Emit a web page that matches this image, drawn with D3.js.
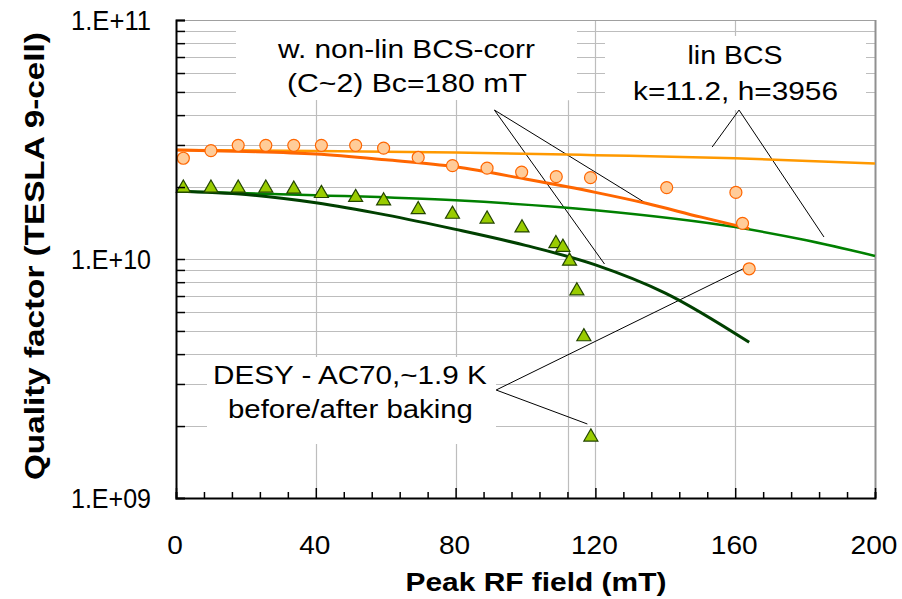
<!DOCTYPE html>
<html>
<head>
<meta charset="utf-8">
<script src="https://cdn.jsdelivr.net/npm/d3@7"></script>
<style>
  body { margin: 0; background: #fff; }
  text { font-family: "Liberation Sans", Arial, sans-serif; fill: #000; }
</style>
</head>
<body>
<div class="chart"></div>
<script>
let d3 = window.d3;
let w = 902, h = 599;
let plotLeft = 176, plotRight = 875, plotTop = 20, plotBottom = 498;

// measured points (peak field in mT, Q0)
let circleField = [2.1, 10, 17.8, 25.7, 33.7, 41.6, 51.4, 59.4, 69.3, 79.1, 89, 98.9, 108.8, 118.6, 140.4, 160.2, 162.1, 164];
let circleQ = [2.64e10, 2.84e10, 2.99e10, 2.99e10, 2.99e10, 2.99e10, 2.99e10, 2.91e10, 2.66e10, 2.46e10, 2.40e10, 2.31e10, 2.21e10, 2.19e10, 1.99e10, 1.90e10, 1.41e10, 9.1e9];

let triField = [2.1, 10, 17.8, 25.7, 33.7, 41.6, 51.4, 59.4, 69.3, 79.1, 89, 99, 108.7, 110.7, 112.6, 114.7, 116.7, 118.7];
let triQ = [1.98e10, 1.98e10, 1.98e10, 1.98e10, 1.96e10, 1.88e10, 1.81e10, 1.75e10, 1.61e10, 1.54e10, 1.47e10, 1.35e10, 1.16e10, 1.12e10, 9.8e9, 7.36e9, 4.73e9, 1.80e9];

// model curves
let linOrangeField = [0, 40, 80, 120, 160, 200];
let linOrangeQ = [2.86e10, 2.83e10, 2.79e10, 2.72e10, 2.64e10, 2.51e10];

let nonlinOrangeField = [0, 20, 40, 60, 80, 100, 120, 134.5, 150, 164];
let nonlinOrangeQ = [2.86e10, 2.82e10, 2.75e10, 2.6e10, 2.43e10, 2.16e10, 1.9e10, 1.71e10, 1.5e10, 1.34e10];

let linGreenField = [0, 40, 80, 120, 160, 180, 200];
let linGreenQ = [1.92e10, 1.85e10, 1.76e10, 1.60e10, 1.36e10, 1.2e10, 1.03e10];

let nonlinGreenField = [0, 20, 40, 60, 80, 100, 120, 140, 164];
let nonlinGreenQ = [1.92e10, 1.86e10, 1.72e10, 1.53e10, 1.33e10, 1.14e10, 9.45e9, 7.2e9, 4.48e9];

// axis ticks
let xTicks = [0, 40, 80, 120, 160, 200];
let yTicks = [1e9, 1e10, 1e11];
let yTickLabels = ['1.E+09', '1.E+10', '1.E+11'];

// call-out lines: [apex, end, end] in (mT, Q)
let calloutNonlin = [[91.1, 4.2e10], [134.5, 1.71e10], [122.6, 9.53e9]];
let calloutLin = [[161.1, 4.2e10], [153.4, 2.94e10], [185.4, 1.236e10]];
let calloutDesy = [[91.6, 2.83e9], [164, 9.36e9], [117.7, 2.04e9]];

let svg = d3.select('.chart').append('svg').attr('width', w).attr('height', h);

/* ==== X & Y SCALES ===== */

let xScale = d3.scaleLinear().domain([0, 200]).range([plotLeft, plotRight]);
let yScale = d3.scaleLog().domain([1e9, 1e11]).range([plotBottom, plotTop]);

function zip(xs, ys) {
    return xs.map(function (x, i) { return [x, ys[i]]; });
}

/* ==== GRID ===== */

let minorQ = [];
for (let e = 9; e <= 10; e++) {
    for (let m = 1; m <= 9; m++) {
        let v = m * Math.pow(10, e);
        if (v > 1e9) minorQ.push(v);
    }
}

svg.append('g')
    .selectAll('line')
    .data(minorQ)
    .enter().append('line')
    .attr('x1', plotLeft).attr('x2', plotRight)
    .attr('y1', function (d) { return Math.round(yScale(d)) + 0.5; })
    .attr('y2', function (d) { return Math.round(yScale(d)) + 0.5; })
    .attr('stroke', '#bdbdbd')
    .attr('stroke-width', 1.2);

svg.append('g')
    .selectAll('line')
    .data([40, 80, 120, 160])
    .enter().append('line')
    .attr('x1', function (d) { return Math.round(xScale(d)) + 0.5; })
    .attr('x2', function (d) { return Math.round(xScale(d)) + 0.5; })
    .attr('y1', plotTop).attr('y2', plotBottom)
    .attr('stroke', '#bdbdbd')
    .attr('stroke-width', 1.2);

// stray grey rule under the first label
svg.append('line')
    .attr('x1', Math.round(xScale(112.3)) + 0.5).attr('x2', Math.round(xScale(112.3)) + 0.5)
    .attr('y1', yScale(4.62e10)).attr('y2', plotBottom)
    .attr('stroke', '#bdbdbd')
    .attr('stroke-width', 1.2);

// plot frame, grey top/right
svg.append('line').attr('x1', plotLeft).attr('x2', plotRight + 1).attr('y1', plotTop + 0.5).attr('y2', plotTop + 0.5)
    .attr('stroke', '#a0a0a0').attr('stroke-width', 1);
svg.append('line').attr('x1', plotRight + 0.5).attr('x2', plotRight + 0.5).attr('y1', plotTop).attr('y2', plotBottom)
    .attr('stroke', '#909090').attr('stroke-width', 2);

/* ==== LABEL BOXES (white, hide grid) ===== */

let boxes = [
    [xScale.invert(236), xScale.invert(577), 1.0e11, yScale.invert(100)],
    [xScale.invert(605), xScale.invert(866), yScale.invert(35), yScale.invert(110)],
    [xScale.invert(207), xScale.invert(496), yScale.invert(356), yScale.invert(444)]
];
svg.append('g')
    .selectAll('rect')
    .data(boxes)
    .enter().append('rect')
    .attr('x', function (d) { return xScale(d[0]); })
    .attr('y', function (d) { return yScale(d[2]) + 1; })
    .attr('width', function (d) { return xScale(d[1]) - xScale(d[0]); })
    .attr('height', function (d) { return yScale(d[3]) - yScale(d[2]) - 1; })
    .attr('fill', '#fff');

/* ==== CALL-OUT LINES ===== */

[calloutNonlin, calloutLin, calloutDesy].forEach(function (c) {
    svg.append('path')
        .attr('d', 'M' + xScale(c[1][0]) + ',' + yScale(c[1][1]) +
            'L' + xScale(c[0][0]) + ',' + yScale(c[0][1]) +
            'L' + xScale(c[2][0]) + ',' + yScale(c[2][1]))
        .attr('fill', 'none')
        .attr('stroke', '#000')
        .attr('stroke-width', 1);
});

/* ==== LINES ===== */

let line = d3.line()
    .x(function (d) { return xScale(d[0]); })
    .y(function (d) { return yScale(d[1]); })
    .curve(d3.curveMonotoneX);

svg.append('path').datum(zip(linOrangeField, linOrangeQ))
    .attr('d', line).attr('fill', 'none').attr('stroke', '#ff9900').attr('stroke-width', 2.5);
svg.append('path').datum(zip(linGreenField, linGreenQ))
    .attr('d', line).attr('fill', 'none').attr('stroke', '#008000').attr('stroke-width', 2.5);
svg.append('path').datum(zip(nonlinOrangeField, nonlinOrangeQ))
    .attr('d', line).attr('fill', 'none').attr('stroke', '#ff6600').attr('stroke-width', 3);
svg.append('path').datum(zip(nonlinGreenField, nonlinGreenQ))
    .attr('d', line).attr('fill', 'none').attr('stroke', '#004000').attr('stroke-width', 3);

/* ==== POINTS ===== */

svg.append('g')
    .selectAll('circle')
    .data(zip(circleField, circleQ))
    .enter().append('circle')
    .attr('cx', function (d) { return xScale(d[0]); })
    .attr('cy', function (d) { return yScale(d[1]); })
    .attr('r', 6)
    .attr('fill', '#ffcc99')
    .attr('stroke', '#ff6600')
    .attr('stroke-width', 1.2);

let tri = d3.symbol().type(d3.symbolTriangle).size(85);
svg.append('g')
    .selectAll('path')
    .data(zip(triField, triQ))
    .enter().append('path')
    .attr('d', tri)
    .attr('transform', function (d) { return 'translate(' + xScale(d[0]) + ',' + yScale(d[1]) + ')'; })
    .attr('fill', '#99cc00')
    .attr('stroke', '#224400')
    .attr('stroke-width', 1.2);

/* ==== AXES ===== */

let xAxis = d3.axisBottom(xScale)
    .tickValues(d3.range(0, 201, 8))
    .tickSize(-6)
    .tickFormat('');
let gx = svg.append('g')
    .attr('transform', 'translate(0,' + plotBottom + ')')
    .call(xAxis);
gx.selectAll('.tick line')
    .attr('y2', function (d) { return d % 40 === 0 ? -10 : -6; })
    .attr('stroke-width', 1.5);
gx.select('.domain').attr('stroke-width', 2);

let yAxis = d3.axisLeft(yScale)
    .tickValues(minorQ.concat([1e11]))
    .tickSize(-9)
    .tickFormat('');
let gy = svg.append('g')
    .attr('transform', 'translate(' + plotLeft + ',0)')
    .call(yAxis);
gy.selectAll('.tick line').attr('stroke-width', 1.5);
gy.select('.domain').attr('stroke-width', 2);

// text squeezed/stretched horizontally to a measured width, height kept
function label(str, cx, y, len, size, weight, rotate) {
    let t = svg.append('text')
        .text(str)
        .attr('font-size', size)
        .attr('font-weight', weight || 'normal');
    let nat = t.node().getComputedTextLength();
    let sx = len / nat;
    if (rotate) {
        t.attr('transform', 'translate(' + cx + ',' + y + ') rotate(-90) translate(' + (-len / 2) + ',0) scale(' + sx + ',1)');
    } else {
        t.attr('transform', 'translate(' + (cx - len / 2) + ',' + y + ') scale(' + sx + ',1)');
    }
    return t;
}

xTicks.forEach(function (t) {
    let s = String(t);
    label(s, xScale(t) - 1, 554, s.length * 15.6, 25.5);
});

yTicks.forEach(function (t, i) {
    label(yTickLabels[i], 151 - 40, yScale(t) + 10, 80, 28);
});

/* ==== TITLES & NOTES ===== */

label('Peak RF field (mT)', 536, 591, 261, 26, 'bold');
label('Quality factor (TESLA 9-cell)', 44, 256, 448, 28, 'bold', true);

label('w. non-lin BCS-corr', 406.5, 58, 257, 26);
label('(C~2) Bc=180 mT', 407, 92, 240, 26);
label('lin BCS', 735, 64, 95, 26);
label('k=11.2, h=3956', 735.5, 100, 205, 26);
label('DESY - AC70,~1.9 K', 350, 384, 274, 26);
label('before/after baking', 350.5, 418, 245, 26);
</script>
</body>
</html>
